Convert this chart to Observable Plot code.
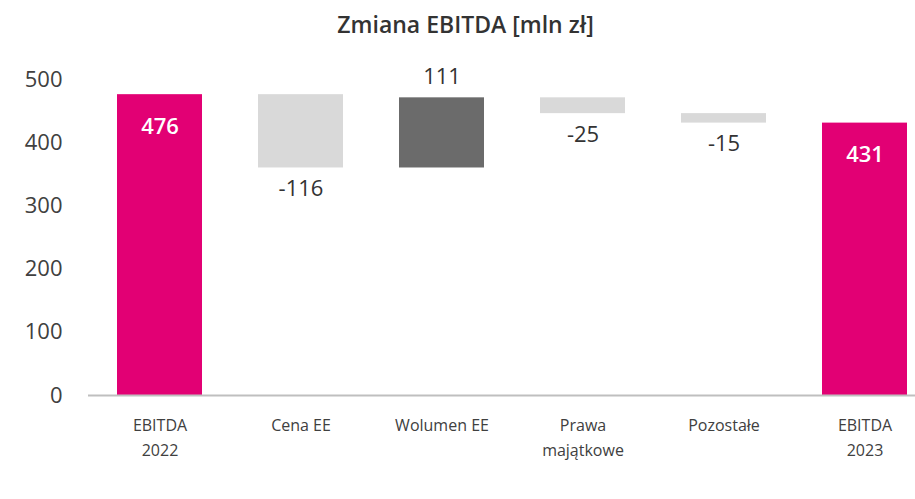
<!DOCTYPE html>
<html>
<head>
<meta charset="utf-8">
<script src="https://cdn.jsdelivr.net/npm/d3@7"></script>
<script src="https://cdn.jsdelivr.net/npm/@observablehq/plot@0.6"></script>
<style>
  html, body { margin: 0; padding: 0; background: #fff; }
  #title { width: 915px; height: 50px; line-height: 48px; text-align: center; box-sizing: border-box; padding-left: 16px;
           font-family: "Open Sans", sans-serif; font-size: 23px; font-weight: 600; color: #333; }
  #chart svg { display: block; }
</style>
</head>
<body>
<div id="title">Zmiana EBITDA [mln zł]</div>
<div id="chart"></div>
<script>
const categories = ["EBITDA 2022", "Cena EE", "Wolumen EE", "Prawa majątkowe", "Pozostałe", "EBITDA 2023"];
const tickLabels = ["EBITDA\n2022", "Cena EE", "Wolumen EE", "Prawa\nmajątkowe", "Pozostałe", "EBITDA\n2023"];
const values = [476, -116, 111, -25, -15, 431];
const kinds = ["total", "delta", "delta", "delta", "delta", "total"];
const yTicks = [0, 100, 200, 300, 400, 500];

const colors = { total: "#E20074", neg: "#D9D9D9", pos: "#6B6B6B" };

let running = 0;
const data = categories.map((c, i) => {
  let y1, y2;
  if (kinds[i] === "total") { y1 = 0; y2 = values[i]; running = values[i]; }
  else { y1 = running; y2 = running + values[i]; running = y2; }
  const type = kinds[i] === "total" ? "total" : (values[i] < 0 ? "neg" : "pos");
  return { cat: c, value: values[i], y1, y2, lo: Math.min(y1, y2), hi: Math.max(y1, y2), type };
});

const font = "'Open Sans', sans-serif";
const plot = Plot.plot({
  width: 915,
  height: 449,
  marginTop: 29,
  marginBottom: 104,
  marginLeft: 88,
  marginRight: 0,
  style: { fontFamily: font, color: "#404040", background: "#fff" },
  x: { domain: categories, range: [88, 936], paddingInner: 0.4, paddingOuter: 0.2 },
  y: { domain: [0, 500] },
  marks: [
    Plot.barY(data, { x: "cat", y1: "y1", y2: "y2", fill: d => colors[d.type] }),
    Plot.ruleY([0], { stroke: "#BFBFBF", strokeWidth: 2 }),
    Plot.axisY({ ticks: yTicks, tickSize: 0, tickPadding: 26, fontSize: 22, label: null, line: true, stroke: "#BFBFBF", strokeWidth: 2, fill: "#404040" }),
    Plot.axisX({ tickSize: 0, tickPadding: 18, fontSize: 16, lineHeight: 1.55, label: null, fill: "#404040",
      tickFormat: d => tickLabels[categories.indexOf(d)] }),
    Plot.text(data.filter(d => d.type === "total"), { x: "cat", y: "hi", dy: 32, text: d => String(d.value), fill: "#fff", fontSize: 22, fontWeight: 600 }),
    Plot.text(data.filter(d => d.type === "pos"), { x: "cat", y: "hi", dy: -21, text: d => String(d.value), fill: "#333", fontSize: 22 }),
    Plot.text(data.filter(d => d.type === "neg"), { x: "cat", y: "lo", dy: 21, text: d => String(d.value), fill: "#333", fontSize: 22 })
  ]
});
document.getElementById("chart").appendChild(plot);
</script>
</body>
</html>
